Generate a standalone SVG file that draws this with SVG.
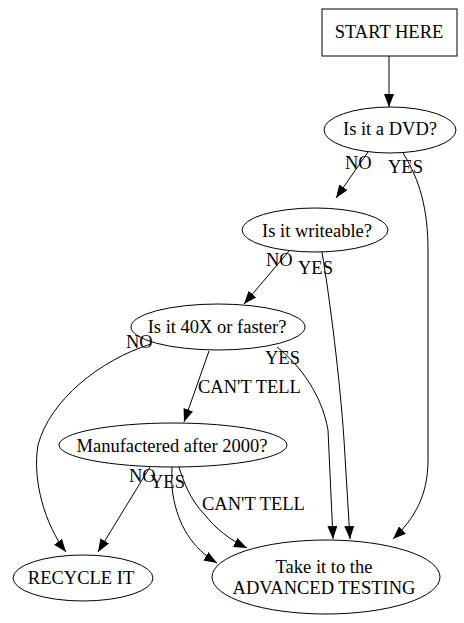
<svg xmlns="http://www.w3.org/2000/svg" width="464" height="623" viewBox="0 0 464 623">
<style>
.n{fill:#fff;stroke:#000;stroke-width:1}
.t{font-family:"Liberation Serif","Times New Roman",serif;font-size:18.5px;fill:#000;text-anchor:middle}
.l{font-family:"Liberation Serif","Times New Roman",serif;font-size:18.5px;fill:#000}
.e{fill:none;stroke:#000;stroke-width:1;marker-end:url(#ah)}
</style>
<defs>
<marker id="ah" markerUnits="userSpaceOnUse" markerWidth="14" markerHeight="10" refX="13" refY="5" orient="auto">
<path d="M0,0 L13,5 L0,10 Z" fill="#000"/>
</marker>
</defs>
<rect width="464" height="623" fill="#fff"/>
<g id="edges">
<path class="e" d="M389,56 L389,107"/>
<path class="e" d="M368,152 L336,198"/>
<path class="e" d="M403,153 C420,180 428,210 428,250 L428,460 C428,495 415,518 393,539"/>
<path class="e" d="M289,251 L244,304"/>
<path class="e" d="M322,252 C330,300 340,380 344,440 L350,539"/>
<path class="e" d="M277,347 C300,365 322,395 328,430 L333,539"/>
<path class="e" d="M209,351 L184,422"/>
<path class="e" d="M151,344 C100,360 50,400 38,445 C32,480 45,525 66,552"/>
<path class="e" d="M150,467 L98,552"/>
<path class="e" d="M172,467 C172,475 171,485 173,495 C178,525 192,548 217,563"/>
<path class="e" d="M179,467 C183,480 190,500 205,515 C215,528 230,540 247,548"/>
</g>
<g id="start"><rect class="n" x="322" y="9" width="135" height="47"/><text class="t" x="389" y="38">START HERE</text></g>
<g id="dvd"><ellipse class="n" cx="390" cy="130" rx="66" ry="23"/><text class="t" x="390" y="135">Is it a DVD?</text></g>
<g id="writeable"><ellipse class="n" cx="315" cy="230" rx="73" ry="22"/><text class="t" x="317" y="237">Is it writeable?</text></g>
<g id="fast"><ellipse class="n" cx="218" cy="327" rx="87" ry="23"/><text class="t" x="217" y="333">Is it 40X or faster?</text></g>
<g id="manuf"><ellipse class="n" cx="173" cy="445" rx="114" ry="22"/><text class="t" x="172" y="452">Manufactered after 2000?</text></g>
<g id="recycle"><ellipse class="n" cx="83" cy="578" rx="70" ry="23"/><text class="t" x="81" y="584">RECYCLE IT</text></g>
<g id="advanced"><ellipse class="n" cx="326" cy="577" rx="114" ry="37"/><text class="t" x="324" y="573">Take it to the</text><text class="t" x="324" y="594">ADVANCED TESTING</text></g>
<g id="labels">
<text class="l" x="345" y="169">NO</text>
<text class="l" x="388" y="173">YES</text>
<text class="l" x="266" y="266">NO</text>
<text class="l" x="298" y="274">YES</text>
<text class="l" x="126" y="348">NO</text>
<text class="l" x="265" y="364">YES</text>
<text class="l" x="198" y="393">CAN'T TELL</text>
<text class="l" x="129" y="482">NO</text>
<text class="l" x="150" y="488">YES</text>
<text class="l" x="202" y="510">CAN'T TELL</text>
</g>
</svg>
